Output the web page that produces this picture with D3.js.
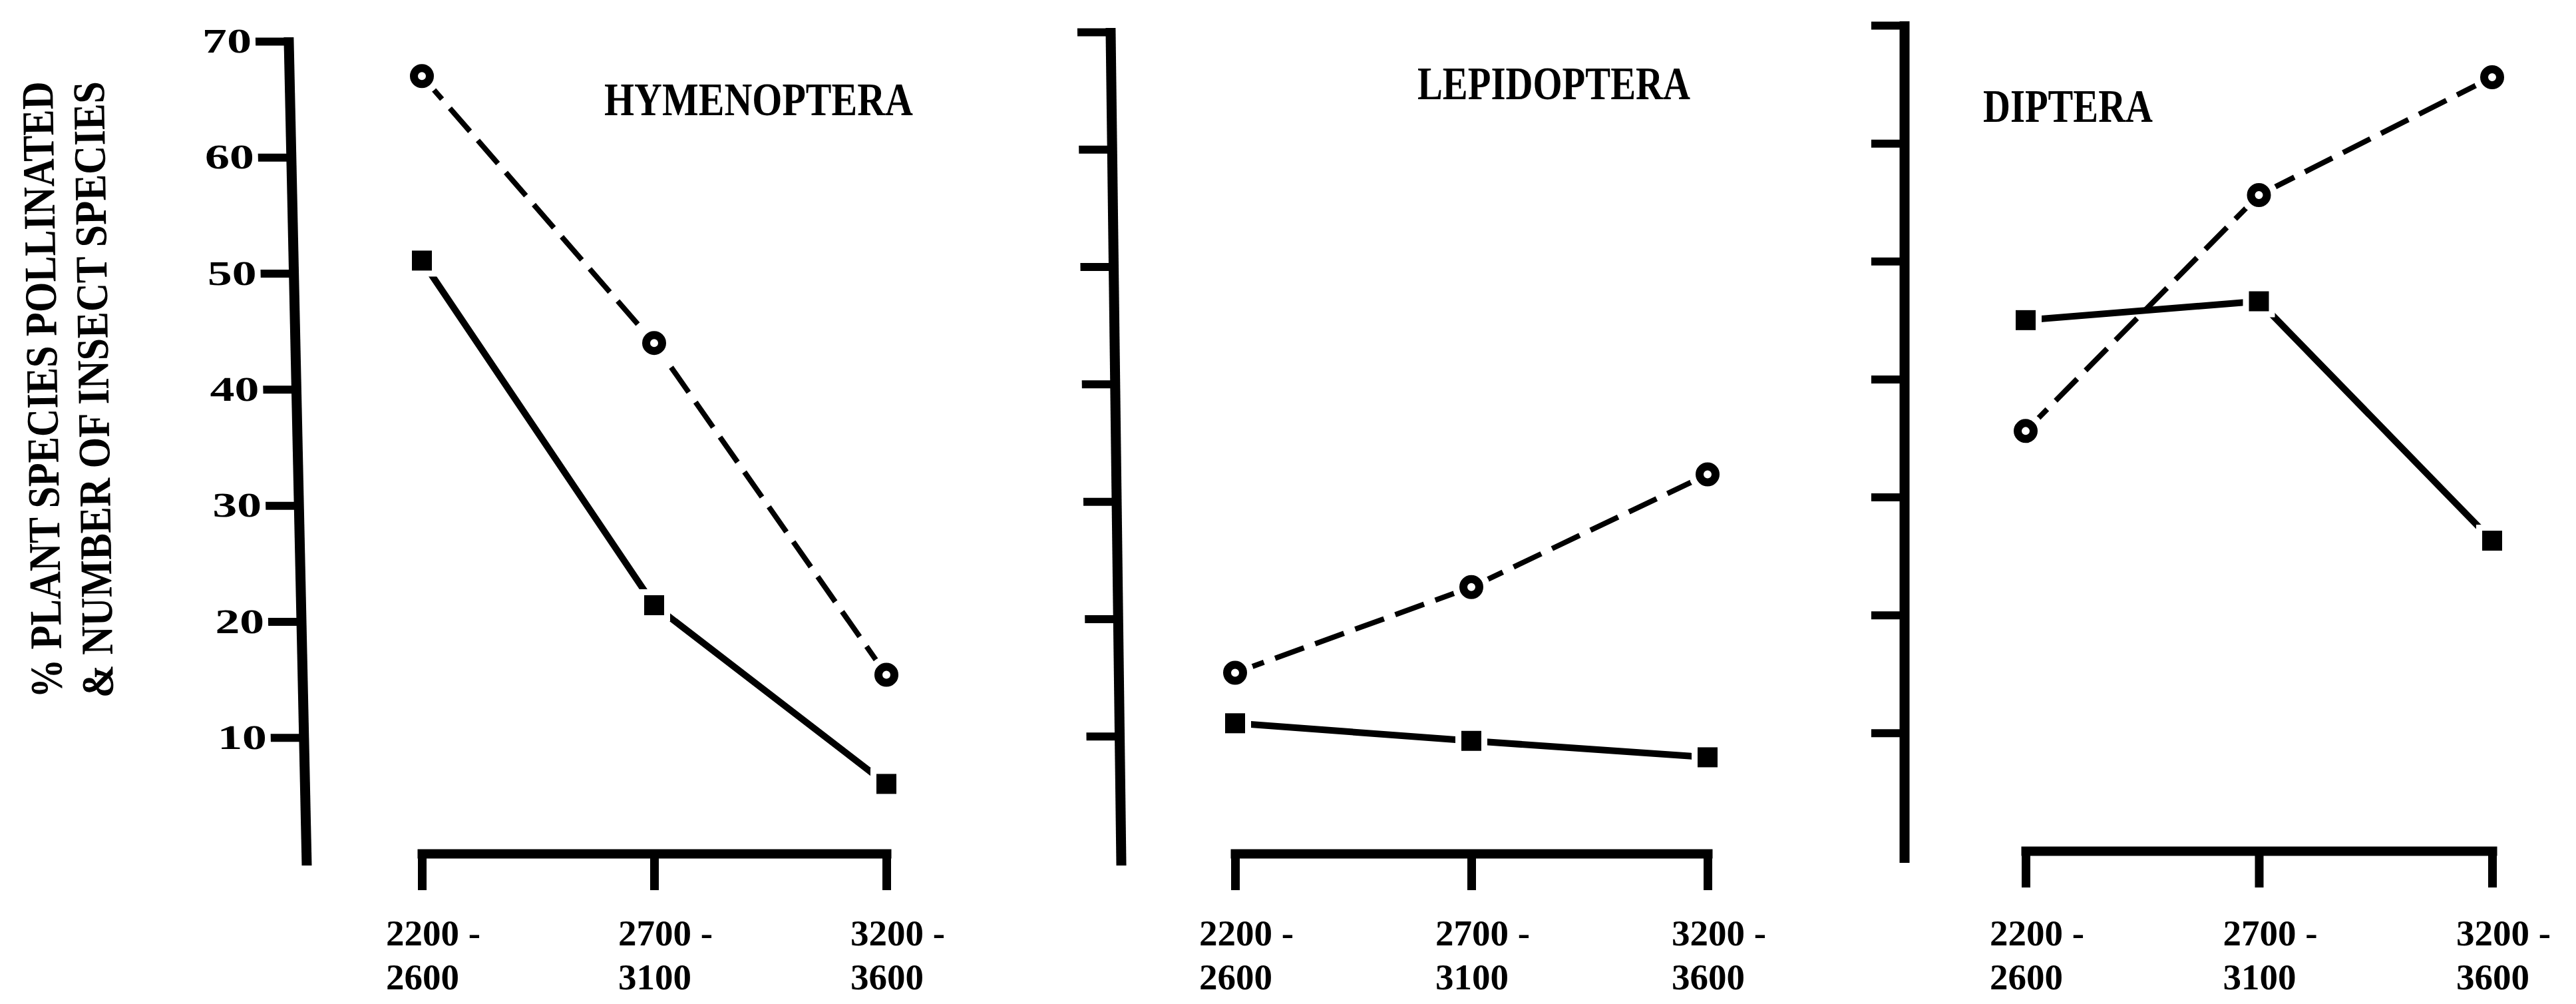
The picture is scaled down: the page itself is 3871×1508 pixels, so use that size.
<!DOCTYPE html>
<html>
<head>
<meta charset="utf-8">
<script src="https://cdn.jsdelivr.net/npm/d3@7"></script>
<style>
  html, body { margin: 0; padding: 0; background: #fff; }
  svg { display: block; }
  text { font-family: "Liberation Serif", "DejaVu Serif", serif; font-weight: bold; fill: #000; }
</style>
</head>
<body>
<svg id="chart" width="3871" height="1508"></svg>
<script>
// ---------------- DATA ----------------
const categories = ["2200-2600", "2700-3100", "3200-3600"];
const tickLine1 = ["2200 -", "2700 -", "3200 -"];
const tickLine2 = ["2600", "3100", "3600"];
const yTicks = [10, 20, 30, 40, 50, 60, 70];
const orders = ["HYMENOPTERA", "LEPIDOPTERA", "DIPTERA"];

// open circles, dashed line
const hymenopteraPlants = [67.0, 44.0, 15.4];
const lepidopteraPlants = [15.4, 22.7, 32.3];
const dipteraPlants     = [35.6, 55.6, 65.6];
// filled squares, solid line
const hymenopteraInsects = [51.1, 21.4, 6.0];
const lepidopteraInsects = [11.1, 9.6, 8.2];
const dipteraInsects     = [45.0, 46.6, 26.3];

const yTitle1 = "% PLANT SPECIES POLLINATED";
const yTitle2 = "& NUMBER OF INSECT SPECIES";

// ---------------- LAYOUT ----------------
const panelLayout = [
  { axisX: 434,  tilt: 0.0218, top: 62, zero: 1282, x0: 634,  x1: 1332, titleX: 908,  titleY: 173, titleLen: 464 },
  { axisX: 1669, tilt: 0.0128, top: 48, zero: 1282, x0: 1856, x1: 2566, titleX: 2130, titleY: 149, titleLen: 410 },
  { axisX: 2862, tilt: 0.0,    top: 38, zero: 1278, x0: 3044, x1: 3745, titleX: 2980, titleY: 183, titleLen: 255 }
];
const plantSeries = [hymenopteraPlants, lepidopteraPlants, dipteraPlants];
const insectSeries = [hymenopteraInsects, lepidopteraInsects, dipteraInsects];

const svg = d3.select("#chart");
svg.append("rect").attr("width", 3871).attr("height", 1508).attr("fill", "#fff");

// y-axis title (two rotated lines)
const titleG = svg.append("g");
[[yTitle1, 86], [yTitle2, 163]].forEach(([t, bx]) => {
  titleG.append("text")
    .attr("transform", `translate(${bx},585) rotate(-90.87)`)
    .attr("text-anchor", "middle")
    .attr("font-size", 68)
    .attr("textLength", 926)
    .attr("lengthAdjust", "spacingAndGlyphs")
    .text(t);
});

orders.forEach((name, i) => {
  const L = panelLayout[i];
  const y = d3.scaleLinear().domain([0, 70]).range([L.zero, L.top]);
  const x = d3.scalePoint().domain(categories).range([L.x0, L.x1]);
  const g = svg.append("g");

  // ---- y axis (slightly tilted spine, as in the scan) ----
  const ang = Math.atan(L.tilt) * 180 / Math.PI;
  const ya = g.append("g")
    .attr("transform", `translate(${L.axisX - L.tilt * L.top},0) skewX(${ang})`)
    .call(d3.axisLeft(y).tickValues(yTicks).tickSize(50).tickPadding(6)
      .tickFormat(i === 0 ? d3.format("d") : () => ""));
  ya.select(".domain").remove();
  ya.selectAll(".tick line").attr("stroke", "#000").attr("stroke-width", 12);
  ya.selectAll(".tick text")
    .attr("font-size", 52)
    .attr("font-family", "Liberation Serif, serif")
    .attr("font-weight", "bold")
    .attr("textLength", 74)
    .attr("lengthAdjust", "spacingAndGlyphs");
  ya.append("line")
    .attr("x1", 0).attr("x2", 0)
    .attr("y1", y(70) - 6).attr("y2", y(0) + 18)
    .attr("stroke", "#000").attr("stroke-width", 15);

  // ---- x axis bracket ----
  const xa = g.append("g")
    .attr("transform", `translate(0,${y(0)})`)
    .call(d3.axisBottom(x).tickSize(55).tickSizeOuter(0).tickFormat(""));
  xa.select(".domain").attr("stroke", "#000").attr("stroke-width", 14).attr("stroke-linecap", "square");
  xa.selectAll(".tick line").attr("stroke", "#000").attr("stroke-width", 13);

  const labG = g.append("g");
  categories.forEach((c, k) => {
    const t = labG.append("text").attr("font-size", 55);
    t.append("tspan").attr("x", x(c) - 54).attr("y", 1420).text(tickLine1[k]);
    t.append("tspan").attr("x", x(c) - 54).attr("y", 1486).text(tickLine2[k]);
  });

  // ---- title ----
  g.append("text")
    .attr("x", L.titleX).attr("y", L.titleY)
    .attr("font-size", 70)
    .attr("textLength", L.titleLen)
    .attr("lengthAdjust", "spacingAndGlyphs")
    .text(name);

  // ---- lines ----
  const line = d3.line().x((d, k) => x(categories[k])).y(d => y(d));
  g.append("path").datum(insectSeries[i])
    .attr("d", line).attr("fill", "none")
    .attr("stroke", "#000").attr("stroke-width", 10);
  g.append("path").datum(plantSeries[i])
    .attr("d", line).attr("fill", "none")
    .attr("stroke", "#000").attr("stroke-width", 8)
    .attr("stroke-dasharray", "46,18");

  // ---- marker halos (white gap between marker and line) ----
  g.selectAll(".haloSq").data(insectSeries[i]).join("rect")
    .attr("x", (d, k) => x(categories[k]) - 24).attr("y", d => y(d) - 24)
    .attr("width", 48).attr("height", 48).attr("fill", "#fff");
  g.selectAll(".haloCi").data(plantSeries[i]).join("circle")
    .attr("cx", (d, k) => x(categories[k])).attr("cy", d => y(d))
    .attr("r", 28).attr("fill", "#fff");

  // ---- markers ----
  g.selectAll(".sq").data(insectSeries[i]).join("rect")
    .attr("x", (d, k) => x(categories[k]) - 15).attr("y", d => y(d) - 15)
    .attr("width", 30).attr("height", 30).attr("fill", "#000");
  g.selectAll(".ci").data(plantSeries[i]).join("circle")
    .attr("cx", (d, k) => x(categories[k])).attr("cy", d => y(d))
    .attr("r", 12).attr("fill", "#fff").attr("stroke", "#000").attr("stroke-width", 12);
});
</script>
</body>
</html>
